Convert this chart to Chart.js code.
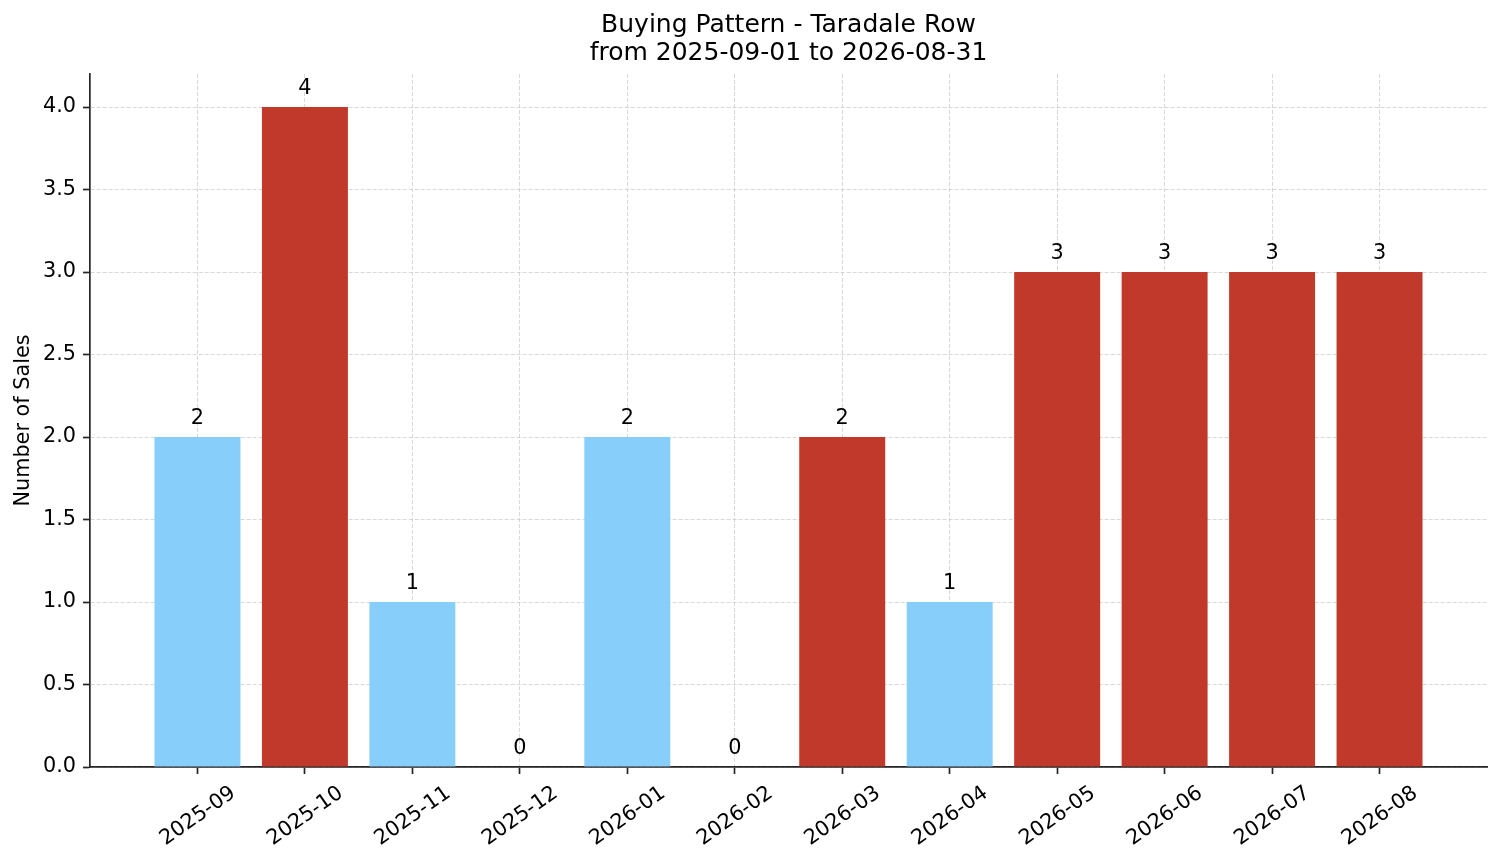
<!DOCTYPE html>
<html>
<head>
<meta charset="utf-8">
<script src="https://cdn.jsdelivr.net/npm/chart.js@4/dist/chart.umd.min.js"></script>
<style>
  html, body { margin: 0; padding: 0; background: #ffffff; }
  #wrap { width: 1501px; height: 863px; position: relative; }
</style>
</head>
<body>
<div id="wrap"><canvas id="c"></canvas></div>
<script>
const months = ['2025-09','2025-10','2025-11','2025-12','2026-01','2026-02','2026-03','2026-04','2026-05','2026-06','2026-07','2026-08'];
const sales = [2, 4, 1, 0, 2, 0, 2, 1, 3, 3, 3, 3];
const barColors = ['#87CEFA','#C0392B','#87CEFA','#87CEFA','#87CEFA','#87CEFA','#C0392B','#87CEFA','#C0392B','#C0392B','#C0392B','#C0392B'];
const yTicks = [0, 0.5, 1.0, 1.5, 2.0, 2.5, 3.0, 3.5, 4.0];
const titleLines = ['Buying Pattern - Taradale Row', 'from 2025-09-01 to 2026-08-31'];
const yTitle = 'Number of Sales';

const FONT = '"DejaVu Sans", "Liberation Sans", sans-serif';
const GRID = 'rgba(190,190,190,0.6)';
const AXIS = '#262626';

const valueLabels = {
  id: 'valueLabels',
  afterDraw(chart) {
    const ctx = chart.ctx;
    const meta = chart.getDatasetMeta(0);
    ctx.save();
    ctx.font = '20.8px ' + FONT;
    ctx.fillStyle = '#000000';
    ctx.textAlign = 'center';
    ctx.textBaseline = 'alphabetic';
    meta.data.forEach((bar, i) => {
      ctx.fillText(String(sales[i]), bar.x, bar.y - 13);
    });
    ctx.restore();
  }
};

new Chart(document.getElementById('c'), {
  type: 'bar',
  data: {
    datasets: [{
      data: sales.map((v, i) => ({ x: i, y: v })),
      backgroundColor: barColors,
      borderWidth: 0,
      barPercentage: 0.8,
      categoryPercentage: 1.0
    }]
  },
  options: {
    responsive: true,
    maintainAspectRatio: false,
    animation: false,
    devicePixelRatio: 1,
    layout: { padding: { top: 0, right: 14, bottom: 0, left: 0 } },
    plugins: {
      legend: { display: false },
      tooltip: { enabled: false },
      title: {
        display: true,
        fullSize: false,
        text: titleLines,
        color: '#000000',
        font: { family: FONT, size: 25, weight: 'normal', lineHeight: 1.12 },
        padding: { top: 11.5, bottom: 6.5 }
      }
    },
    scales: {
      x: {
        type: 'linear',
        min: -1,
        max: 12,
        offset: false,
        z: 1,
        afterBuildTicks(scale) { scale.ticks = months.map((m, i) => ({ value: i })); },
        afterFit(scale) { scale.height = 96; },
        ticks: {
          autoSkip: false,
          minRotation: 35,
          maxRotation: 35,
          labelOffset: 36,
          padding: 7,
          color: '#000000',
          font: { family: FONT, size: 20.8 },
          callback: (v) => months[v]
        },
        grid: {
          offset: false,
          color: GRID,
          lineWidth: 1,
          drawTicks: true,
          tickLength: 7,
          tickColor: AXIS,
          tickWidth: 1.7
        },
        border: { display: true, color: AXIS, width: 1.7, dash: [4, 2] }
      },
      y: {
        type: 'linear',
        min: 0,
        max: 4.2,
        z: 1,
        afterBuildTicks(scale) { scale.ticks = yTicks.map(v => ({ value: v })); },
        afterFit(scale) { scale.width = 90; },
        ticks: {
          padding: 7,
          color: '#000000',
          font: { family: FONT, size: 20.8 },
          callback: (v) => Number(v).toFixed(1)
        },
        grid: {
          color: GRID,
          lineWidth: 1,
          drawTicks: true,
          tickLength: 7,
          tickColor: AXIS,
          tickWidth: 1.7
        },
        border: { display: true, color: AXIS, width: 1.7, dash: [4, 2] },
        title: {
          display: true,
          text: yTitle,
          color: '#000000',
          font: { family: FONT, size: 20.8 },
          padding: { top: 11, bottom: 0 }
        }
      }
    }
  },
  plugins: [valueLabels]
});
</script>
</body>
</html>
